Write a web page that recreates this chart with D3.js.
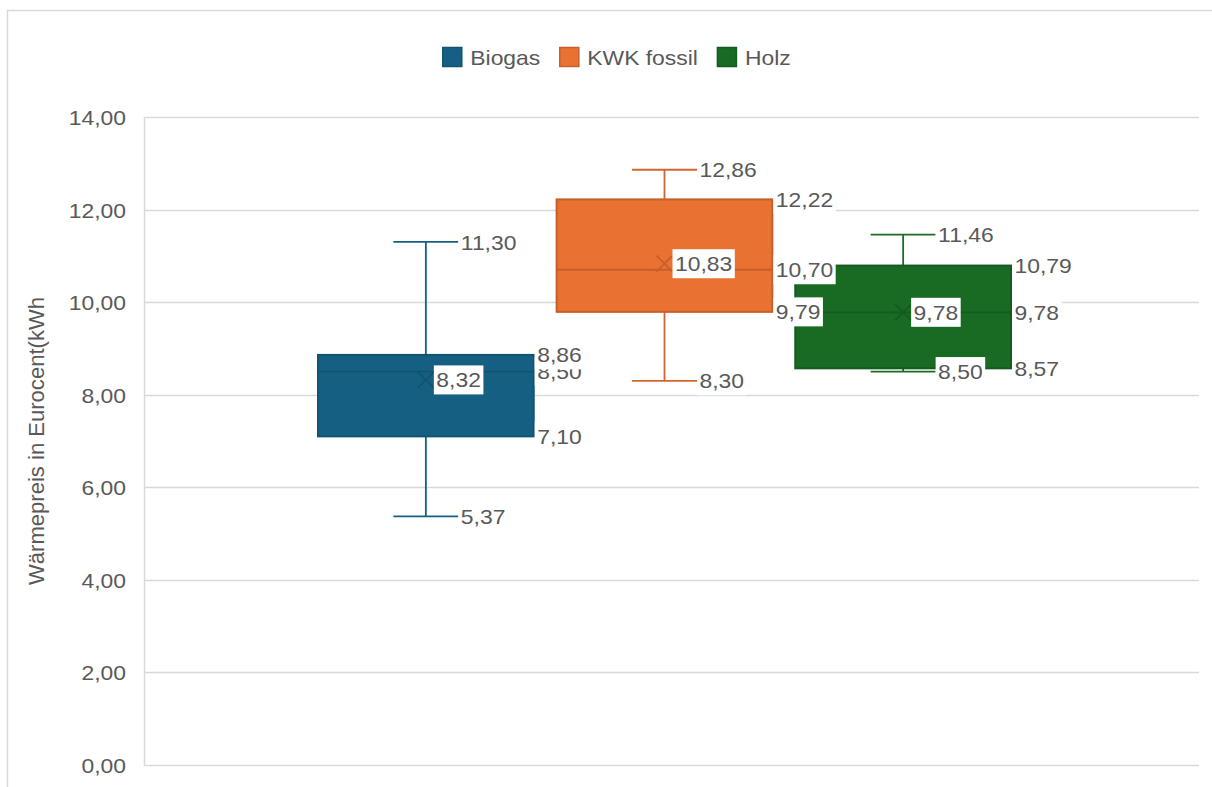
<!DOCTYPE html>
<html>
<head>
<meta charset="utf-8">
<script src="https://cdn.jsdelivr.net/npm/d3@7"></script>
<style>
  html, body { margin: 0; padding: 0; background: #ffffff; }
  svg { display: block; }
  text { font-family: "Liberation Sans", Arial, sans-serif; fill: #595959; }
</style>
</head>
<body>
<svg id="chart" width="1212" height="787"></svg>
<script>
// ---- Data ----
const seriesNames = ["Biogas", "KWK fossil", "Holz"];
const minVals    = [5.37, 8.30, 8.50];
const q1Vals     = [7.10, 9.79, 8.57];
const medianVals = [8.50, 10.70, 9.78];
const meanVals   = [8.32, 10.83, 9.78];
const q3Vals     = [8.86, 12.22, 10.79];
const maxVals    = [11.30, 12.86, 11.46];
const yTickValues = [0, 2, 4, 6, 8, 10, 12, 14];
const yAxisTitle = "Wärmepreis in Eurocent(kWh";

// ---- Styles ----
const fillColors   = ["#156082", "#E97132", "#196B24"];
const strokeColors = ["#12536f", "#c65f2a", "#155a1e"];
const whiskerColors = ["#156082", "#d0652e", "#1e6a27"];
const STRETCH = 1.09;

const svg = d3.select("#chart");
const plot = { left: 144, right: 1199, top: 117, bottom: 765 };

function stretch(sel) {
  sel.each(function () {
    const w = this.getComputedTextLength();
    d3.select(this).attr("textLength", w * STRETCH).attr("lengthAdjust", "spacingAndGlyphs");
  });
  return sel;
}

// outer frame
svg.append("rect")
  .attr("x", 7.5).attr("y", 10.5)
  .attr("width", 1300).attr("height", 900)
  .attr("fill", "#fff").attr("stroke", "#d9d9d9").attr("stroke-width", 1.5);

const y = d3.scaleLinear().domain([0, 14]).range([plot.bottom, plot.top]);
const x = d3.scaleBand().domain(seriesNames).range([318, 1011]).paddingInner(0.096).paddingOuter(0);
const fmt = v => d3.format(".2f")(v).replace(".", ",");

// gridlines
svg.append("g").selectAll("line").data(yTickValues).join("line")
  .attr("x1", plot.left).attr("x2", plot.right)
  .attr("y1", d => Math.round(y(d)) + 0.5).attr("y2", d => Math.round(y(d)) + 0.5)
  .attr("stroke", "#d9d9d9").attr("stroke-width", 1.5);
// left axis line
svg.append("line")
  .attr("x1", plot.left + 0.5).attr("x2", plot.left + 0.5)
  .attr("y1", plot.top).attr("y2", plot.bottom + 1)
  .attr("stroke", "#d9d9d9").attr("stroke-width", 1.5);

// y axis (labels only) via d3 axis
const yAxis = d3.axisLeft(y).tickValues(yTickValues).tickFormat(fmt).tickSize(0).tickPadding(0);
const gy = svg.append("g").attr("transform", `translate(126,0)`).call(yAxis);
gy.select(".domain").remove();
gy.selectAll("text")
  .attr("font-family", "Liberation Sans, Arial, sans-serif")
  .attr("font-size", 21).attr("fill", "#595959").attr("dy", "0.36em");
stretch(gy.selectAll("text"));

// y axis title
svg.append("text")
  .attr("transform", `translate(44,441) rotate(-90)`)
  .attr("text-anchor", "middle")
  .attr("font-size", 22)
  .attr("textLength", 288).attr("lengthAdjust", "spacingAndGlyphs")
  .text(yAxisTitle);

// ---- Boxes ----
const capW = 65;
const marks = svg.append("g");
seriesNames.forEach((s, i) => {
  const g = marks.append("g");
  const cx = x(s) + x.bandwidth() / 2;
  // whiskers
  g.append("line").attr("x1", cx).attr("x2", cx).attr("y1", y(maxVals[i])).attr("y2", y(q3Vals[i]))
    .attr("stroke", whiskerColors[i]).attr("stroke-width", 1.8);
  g.append("line").attr("x1", cx).attr("x2", cx).attr("y1", y(q1Vals[i])).attr("y2", y(minVals[i]))
    .attr("stroke", whiskerColors[i]).attr("stroke-width", 1.8);
  g.append("line").attr("x1", cx - capW / 2).attr("x2", cx + capW / 2).attr("y1", y(maxVals[i])).attr("y2", y(maxVals[i]))
    .attr("stroke", whiskerColors[i]).attr("stroke-width", 1.8);
  g.append("line").attr("x1", cx - capW / 2).attr("x2", cx + capW / 2).attr("y1", y(minVals[i])).attr("y2", y(minVals[i]))
    .attr("stroke", whiskerColors[i]).attr("stroke-width", 1.8);
  // box
  g.append("rect")
    .attr("x", x(s)).attr("width", x.bandwidth())
    .attr("y", y(q3Vals[i])).attr("height", y(q1Vals[i]) - y(q3Vals[i]))
    .attr("fill", fillColors[i]).attr("stroke", strokeColors[i]).attr("stroke-width", 2);
  // median
  g.append("line").attr("x1", x(s)).attr("x2", x(s) + x.bandwidth())
    .attr("y1", y(medianVals[i])).attr("y2", y(medianVals[i]))
    .attr("stroke", strokeColors[i]).attr("stroke-width", 1.8);
  // mean marker
  const my = y(meanVals[i]), r = 8;
  g.append("path")
    .attr("d", `M${cx - r},${my - r}L${cx + r},${my + r}M${cx - r},${my + r}L${cx + r},${my - r}`)
    .attr("stroke", strokeColors[i]).attr("stroke-width", 1.7).attr("fill", "none");
});

// ---- Data labels ----
const labels = svg.append("g");
function addLabel(val, x0) {
  const g = labels.append("g");
  const t = g.append("text")
    .attr("x", x0 + 2.5).attr("y", y(val))
    .attr("dy", "0.36em")
    .attr("font-size", 21)
    .text(fmt(val));
  const w = t.node().getComputedTextLength() * STRETCH;
  t.attr("textLength", w).attr("lengthAdjust", "spacingAndGlyphs");
  g.insert("rect", "text")
    .attr("x", x0).attr("y", y(val) - 14.5)
    .attr("width", w + 5).attr("height", 29)
    .attr("fill", "#ffffff");
}
seriesNames.forEach((s, i) => {
  const cx = x(s) + x.bandwidth() / 2;
  const right = x(s) + x.bandwidth() + 1;
  addLabel(minVals[i], cx + capW / 2);
  addLabel(q1Vals[i], right);
  addLabel(medianVals[i], right);
  addLabel(q3Vals[i], right);
  addLabel(maxVals[i], cx + capW / 2);
  addLabel(meanVals[i], cx + 8);
});

// ---- Legend ----
const legend = svg.append("g");
let lx = 0;
seriesNames.forEach((s, i) => {
  const g = legend.append("g");
  g.append("rect").attr("x", lx + 0.5).attr("y", 47.5).attr("width", 19).attr("height", 19)
    .attr("fill", fillColors[i]).attr("stroke", strokeColors[i]).attr("stroke-width", 1.5);
  const t = g.append("text").attr("x", lx + 28).attr("y", 57).attr("dy", "0.36em")
    .attr("font-size", 21).text(s);
  const w = t.node().getComputedTextLength() * STRETCH;
  t.attr("textLength", w).attr("lengthAdjust", "spacingAndGlyphs");
  lx += 28 + w + 19;
});
const totalW = lx - 19;
legend.attr("transform", `translate(${616.5 - totalW / 2},0)`);
</script>
</body>
</html>
